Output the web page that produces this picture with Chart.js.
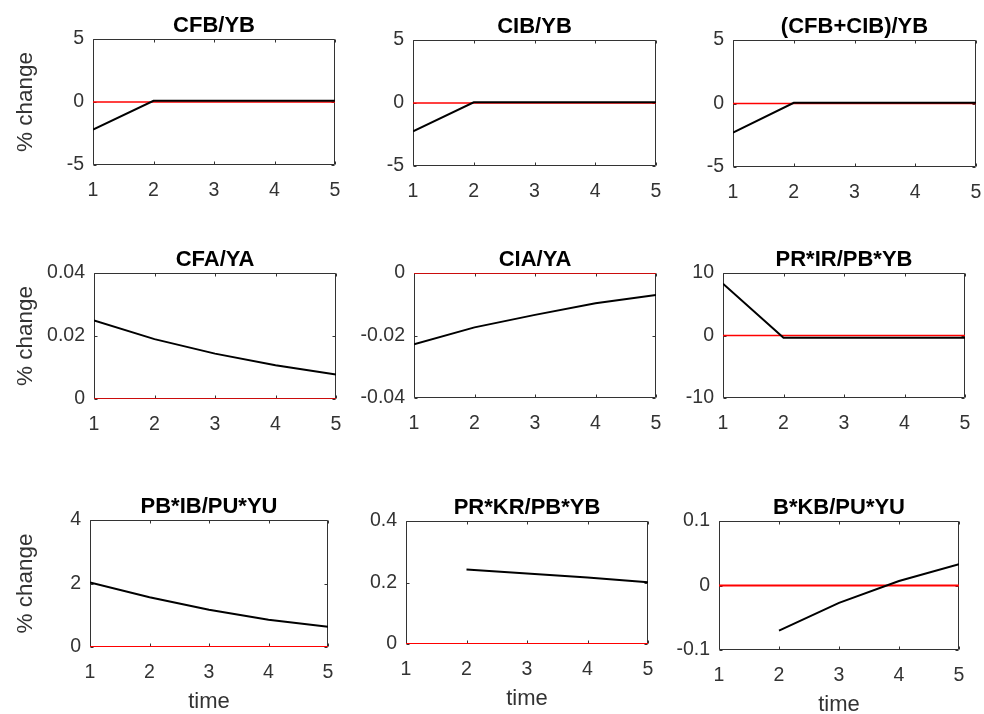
<!DOCTYPE html>
<html>
<head>
<meta charset="utf-8">
<script src="https://cdn.jsdelivr.net/npm/chart.js@4.4.1/dist/chart.umd.min.js"></script>
<style>
    html, body { margin: 0; padding: 0; background: #fff; overflow: hidden; }
    body { width: 984px; height: 714px; position: relative; }
    .panel { position: absolute; }
</style>
</head>
<body>
<script>
const time = [1, 2, 3, 4, 5];
const xTicks = [1, 2, 3, 4, 5];
const zeroLine = [0, 0, 0, 0, 0];

const cfbYb = [-2.2, 0.1, 0.1, 0.1, 0.1];
const cibYb = [-2.25, 0.05, 0.05, 0.05, 0.05];
const cfbCibYb = [-2.3, 0.05, 0.05, 0.05, 0.05];
const cfaYa = [0.0249, 0.019, 0.0144, 0.0107, 0.0078];
const ciaYa = [-0.0228, -0.0174, -0.0134, -0.0097, -0.007];
const prIrPbYb = [8.3, -0.35, -0.35, -0.35, -0.35];
const pbIbPuYu = [2.03, 1.57, 1.17, 0.86, 0.64];
const prKrPbYb = [null, 0.242, 0.229, 0.216, 0.201];
const bKbPuYu = [null, -0.07, -0.027, 0.007, 0.033];

const titles = ['CFB/YB', 'CIB/YB', '(CFB+CIB)/YB', 'CFA/YA', 'CIA/YA', 'PR*IR/PB*YB',
    'PB*IB/PU*YU', 'PR*KR/PB*YB', 'B*KB/PU*YU'];
const series = [cfbYb, cibYb, cfbCibYb, cfaYa, ciaYa, prIrPbYb, pbIbPuYu, prKrPbYb, bKbPuYu];
const yTicksList = [
    [-5, 0, 5], [-5, 0, 5], [-5, 0, 5],
    [0, 0.02, 0.04], [-0.04, -0.02, 0], [-10, 0, 10],
    [0, 2, 4], [0, 0.2, 0.4], [-0.1, 0, 0.1]
];

// plot area of each panel on the page: left, top, right, bottom
const boxes = [
    [93, 39, 335, 165], [413, 40, 656, 166], [733, 40, 976, 167],
    [94, 273, 336, 399], [414, 273, 656, 398], [723, 273, 965, 398],
    [90, 520, 328, 647], [406, 521, 648, 644], [719, 521, 959, 650]
];

const axisColor = '#333333';
const padT = 30, padR = 16;

// MATLAB style box round the plot with small inward ticks
const boxAxes = {
    id: 'boxAxes',
    beforeDatasetsDraw(chart) {
        const { ctx, chartArea: a, scales: { x, y } } = chart;
        const l = Math.round(a.left) + 0.5, t = Math.round(a.top) + 0.5;
        const r = Math.round(a.right) - 0.5, b = Math.round(a.bottom) - 0.5;
        ctx.save();
        ctx.strokeStyle = axisColor;
        ctx.lineWidth = 1;
        ctx.beginPath();
        ctx.rect(l, t, r - l, b - t);
        x.ticks.forEach(tk => {
            const px = Math.round(x.getPixelForValue(tk.value)) + 0.5;
            ctx.moveTo(px, b); ctx.lineTo(px, b - 3);
            ctx.moveTo(px, t); ctx.lineTo(px, t + 3);
        });
        y.ticks.forEach(tk => {
            const py = Math.round(y.getPixelForValue(tk.value)) + 0.5;
            ctx.moveTo(l, py); ctx.lineTo(l + 3, py);
            ctx.moveTo(r, py); ctx.lineTo(r - 3, py);
        });
        ctx.stroke();
        ctx.restore();
    }
};

function makePanel(i) {
    const [L, T, R, B] = boxes[i];
    const col = i % 3, row = Math.floor(i / 3);
    const padL = col === 0 ? L : 70;
    const padB = 68;
    const div = document.createElement('div');
    div.className = 'panel';
    div.style.left = (L - padL) + 'px';
    div.style.top = (T - padT) + 'px';
    div.style.width = (R - L + padL + padR) + 'px';
    div.style.height = (B - T + padT + padB) + 'px';
    const canvas = document.createElement('canvas');
    div.appendChild(canvas);
    document.body.appendChild(div);

    const yTicks = yTicksList[i];
    const values = series[i];

    new Chart(canvas.getContext('2d'), {
        type: 'line',
        data: {
            datasets: [
                {
                    data: time.map((t, k) => ({ x: t, y: values[k] })),
                    borderColor: '#000000',
                    borderWidth: 2,
                    pointRadius: 0,
                    tension: 0,
                    spanGaps: false
                },
                {
                    data: time.map((t, k) => ({ x: t, y: zeroLine[k] })),
                    borderColor: '#ff0000',
                    borderWidth: row === 2 ? 2 : 1.5,
                    pointRadius: 0,
                    tension: 0
                }
            ]
        },
        options: {
            responsive: true,
            maintainAspectRatio: false,
            animation: false,
            layout: { padding: { left: 0, top: 0, right: padR, bottom: 0 } },
            scales: {
                x: {
                    type: 'linear',
                    min: time[0],
                    max: time[time.length - 1],
                    grid: { display: false, drawTicks: false },
                    border: { display: false },
                    afterBuildTicks: s => { s.ticks = xTicks.map(v => ({ value: v })); },
                    afterFit: s => { s.height = padB; s.paddingLeft = 0; s.paddingRight = 0; },
                    ticks: {
                        color: axisColor,
                        font: { family: 'Liberation Sans', size: 19.5 },
                        padding: 14,
                        maxRotation: 0
                    },
                    title: {
                        display: row === 2,
                        text: 'time',
                        color: axisColor,
                        font: { family: 'Liberation Sans', size: 22 },
                        padding: { top: 0, bottom: 0 }
                    }
                },
                y: {
                    min: yTicks[0],
                    max: yTicks[yTicks.length - 1],
                    grid: { display: false, drawTicks: false },
                    border: { display: false },
                    afterBuildTicks: s => { s.ticks = yTicks.map(v => ({ value: v })); },
                    afterFit: s => { s.width = padL; s.paddingTop = 0; s.paddingBottom = 0; },
                    ticks: {
                        color: axisColor,
                        font: { family: 'Liberation Sans', size: 19.5 },
                        padding: 9,
                        callback: v => String(Number(v.toFixed(4)))
                    },
                    title: {
                        display: col === 0,
                        text: '% change',
                        color: axisColor,
                        font: { family: 'Liberation Sans', size: 22.5 },
                        padding: { top: 12, bottom: 0 }
                    }
                }
            },
            plugins: {
                legend: { display: false },
                tooltip: { enabled: false },
                title: {
                    display: true,
                    fullSize: false,
                    text: titles[i],
                    color: '#000000',
                    font: { family: 'Liberation Sans', size: 22, weight: 'bold', lineHeight: '24px' },
                    padding: { top: 5, bottom: 1 }
                }
            }
        },
        plugins: [boxAxes]
    });
}

window.onload = () => {
    for (let i = 0; i < titles.length; i++) makePanel(i);
};
</script>
</body>
</html>
